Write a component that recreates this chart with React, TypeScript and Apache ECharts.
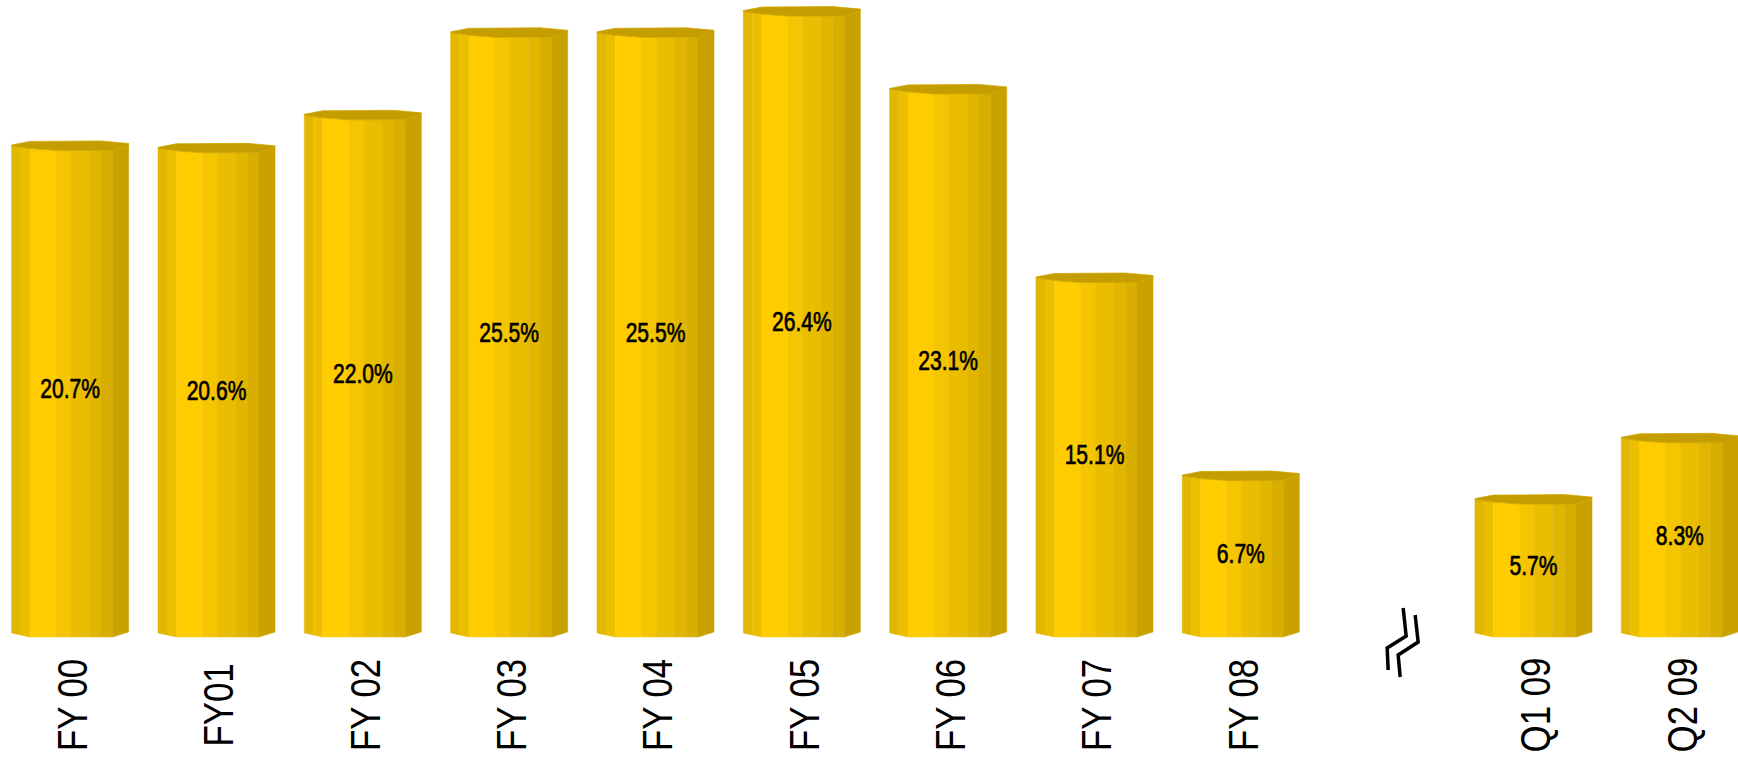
import React, { useEffect, useRef } from "react";
import * as echarts from "echarts";

const categories = ["FY 00", "FY01", "FY 02", "FY 03", "FY 04", "FY 05", "FY 06", "FY 07", "FY 08", "", "Q1 09", "Q2 09"];
const values: (number | null)[] = [20.7, 20.6, 22.0, 25.5, 25.5, 26.4, 23.1, 15.1, 6.7, null, 5.7, 8.3];
const breakIndex = [9];

const FONT = '"Liberation Sans", Arial, sans-serif';

const stripes: [number, number, string][] = [
  [0, 0.077, "#E2B700"],
  [0.077, 0.157, "#EBBF00"],
  [0.157, 0.38, "#FFCC00"],
  [0.38, 0.506, "#F4C500"],
  [0.506, 0.663, "#EABD00"],
  [0.663, 0.763, "#E1B600"],
  [0.763, 0.863, "#D8AE00"],
  [0.863, 1, "#C9A200"],
];

function interp(pts: number[][], f: number) {
  for (let i = 0; i < pts.length - 1; i++) {
    const [fa, ya] = pts[i];
    const [fb, yb] = pts[i + 1];
    if (f >= fa && f <= fb) {
      return ya + ((yb - ya) * (f - fa)) / (fb - fa || 1);
    }
  }
  return pts[pts.length - 1][1];
}

function renderBar(params: any, api: any) {
  const idx = api.value(0);
  const v = api.value(1);
  const [cx, t] = api.coord([idx, v]);
  const [, y0] = api.coord([idx, 0]);
  const w = api.size([1, 0])[0] * 0.8;
  const x0 = cx - w / 2;
  const b = y0 + 8;
  const topPts = [[0, t + 5], [0.157, t + 7.5], [0.38, t + 9.5], [0.863, t + 9.5], [1, t + 4]];
  const botPts = [[0, b - 4], [0.157, b], [0.863, b], [1, b - 5]];
  const children: any[] = [];
  for (const [fa, fb, color] of stripes) {
    const fs = [fa];
    for (const p of topPts) if (p[0] > fa && p[0] < fb) fs.push(p[0]);
    fs.push(fb);
    const gs = [fb];
    for (let i = botPts.length - 1; i >= 0; i--) if (botPts[i][0] > fa && botPts[i][0] < fb) gs.push(botPts[i][0]);
    gs.push(fa);
    const points: number[][] = [];
    for (const f of fs) points.push([x0 + f * w, interp(topPts, f)]);
    for (const f of gs) points.push([x0 + f * w, interp(botPts, f)]);
    children.push({ type: "polygon", shape: { points }, style: { fill: color, stroke: color, lineWidth: 0.5 } });
  }
  const capTop = [[0, t + 4], [0.157, t + 0.5], [0.763, t], [1, t + 2.5]];
  const capPts: number[][] = [];
  for (const [f, y] of capTop) capPts.push([x0 + f * w, y]);
  for (let i = topPts.length - 1; i >= 0; i--) capPts.push([x0 + topPts[i][0] * w, topPts[i][1]]);
  children.push({ type: "polygon", shape: { points: capPts }, style: { fill: "#C49D00", stroke: "#CFA700", lineWidth: 0.8 } });
  children.push({
    type: "text",
    x: cx,
    y: (t + b) / 2,
    scaleX: 0.78,
    style: {
      text: v.toFixed(1) + "%",
      fill: "#000",
      fontSize: 27,
      fontFamily: FONT,
      align: "center",
      verticalAlign: "middle",
      stroke: "#000",
      lineWidth: 0.7,
    },
  });
  return { type: "group", children };
}

function renderCategoryLabel(params: any, api: any) {
  const idx = api.value(0);
  const [cx, y0] = api.coord([idx, 0]);
  return {
    type: "text",
    x: cx + 2,
    y: y0 + 76,
    rotation: Math.PI / 2,
    scaleX: 0.81,
    style: {
      text: categories[idx],
      fill: "#000",
      fontSize: 43,
      fontFamily: FONT,
      align: "center",
      verticalAlign: "middle",
    },
  };
}

function renderBreak(params: any, api: any) {
  const [cx, y0] = api.coord([api.value(0), 0]);
  const p1 = [[1, 41], [0, 19], [19, 7], [16, -21]].map(([dx, dy]) => [cx + dx, y0 + dy]);
  const p2 = [[13, 48], [11, 26], [31, 13], [28, -14]].map(([dx, dy]) => [cx + dx, y0 + dy]);
  return {
    type: "group",
    children: [
      { type: "polyline", shape: { points: p1 }, style: { stroke: "#000", lineWidth: 3.5, fill: "none" } },
      { type: "polyline", shape: { points: p2 }, style: { stroke: "#000", lineWidth: 3.5, fill: "none" } },
    ],
  };
}

export default function App() {
  const ref = useRef<HTMLDivElement>(null);
  useEffect(() => {
    if (!ref.current) return;
    const chart = echarts.init(ref.current, null, { renderer: "svg" });
    const barData = values
      .map((v, i) => (v === null ? null : [i, v]))
      .filter((d) => d !== null);
    const labelData = categories.map((c, i) => (c ? [i, 0] : null)).filter((d) => d !== null);
    chart.setOption({
      animation: false,
      backgroundColor: "#fff",
      grid: { left: 0, right: 0, top: 0, bottom: 130, containLabel: false, outerBoundsMode: "none" },
      xAxis: {
        type: "category",
        data: categories,
        axisLine: { show: false },
        axisTick: { show: false },
        splitLine: { show: false },
        axisLabel: { show: false },
      },
      yAxis: { type: "value", min: 0, max: 26.68, show: false, splitLine: { show: false } },
      series: [
        { type: "custom", renderItem: renderBar, data: barData, clip: false },
        { type: "custom", renderItem: renderCategoryLabel, data: labelData, clip: false },
        { type: "custom", renderItem: renderBreak, data: breakIndex.map((i) => [i, 0]), clip: false },
      ],
    });
    return () => chart.dispose();
  }, []);
  return (
    <div style={{ position: "fixed", left: 0, top: 0, width: 1738, height: 759, overflow: "hidden", background: "#fff" }}>
      <div ref={ref} style={{ position: "absolute", left: -3, top: 0, width: 1756, height: 759 }} />
    </div>
  );
}
